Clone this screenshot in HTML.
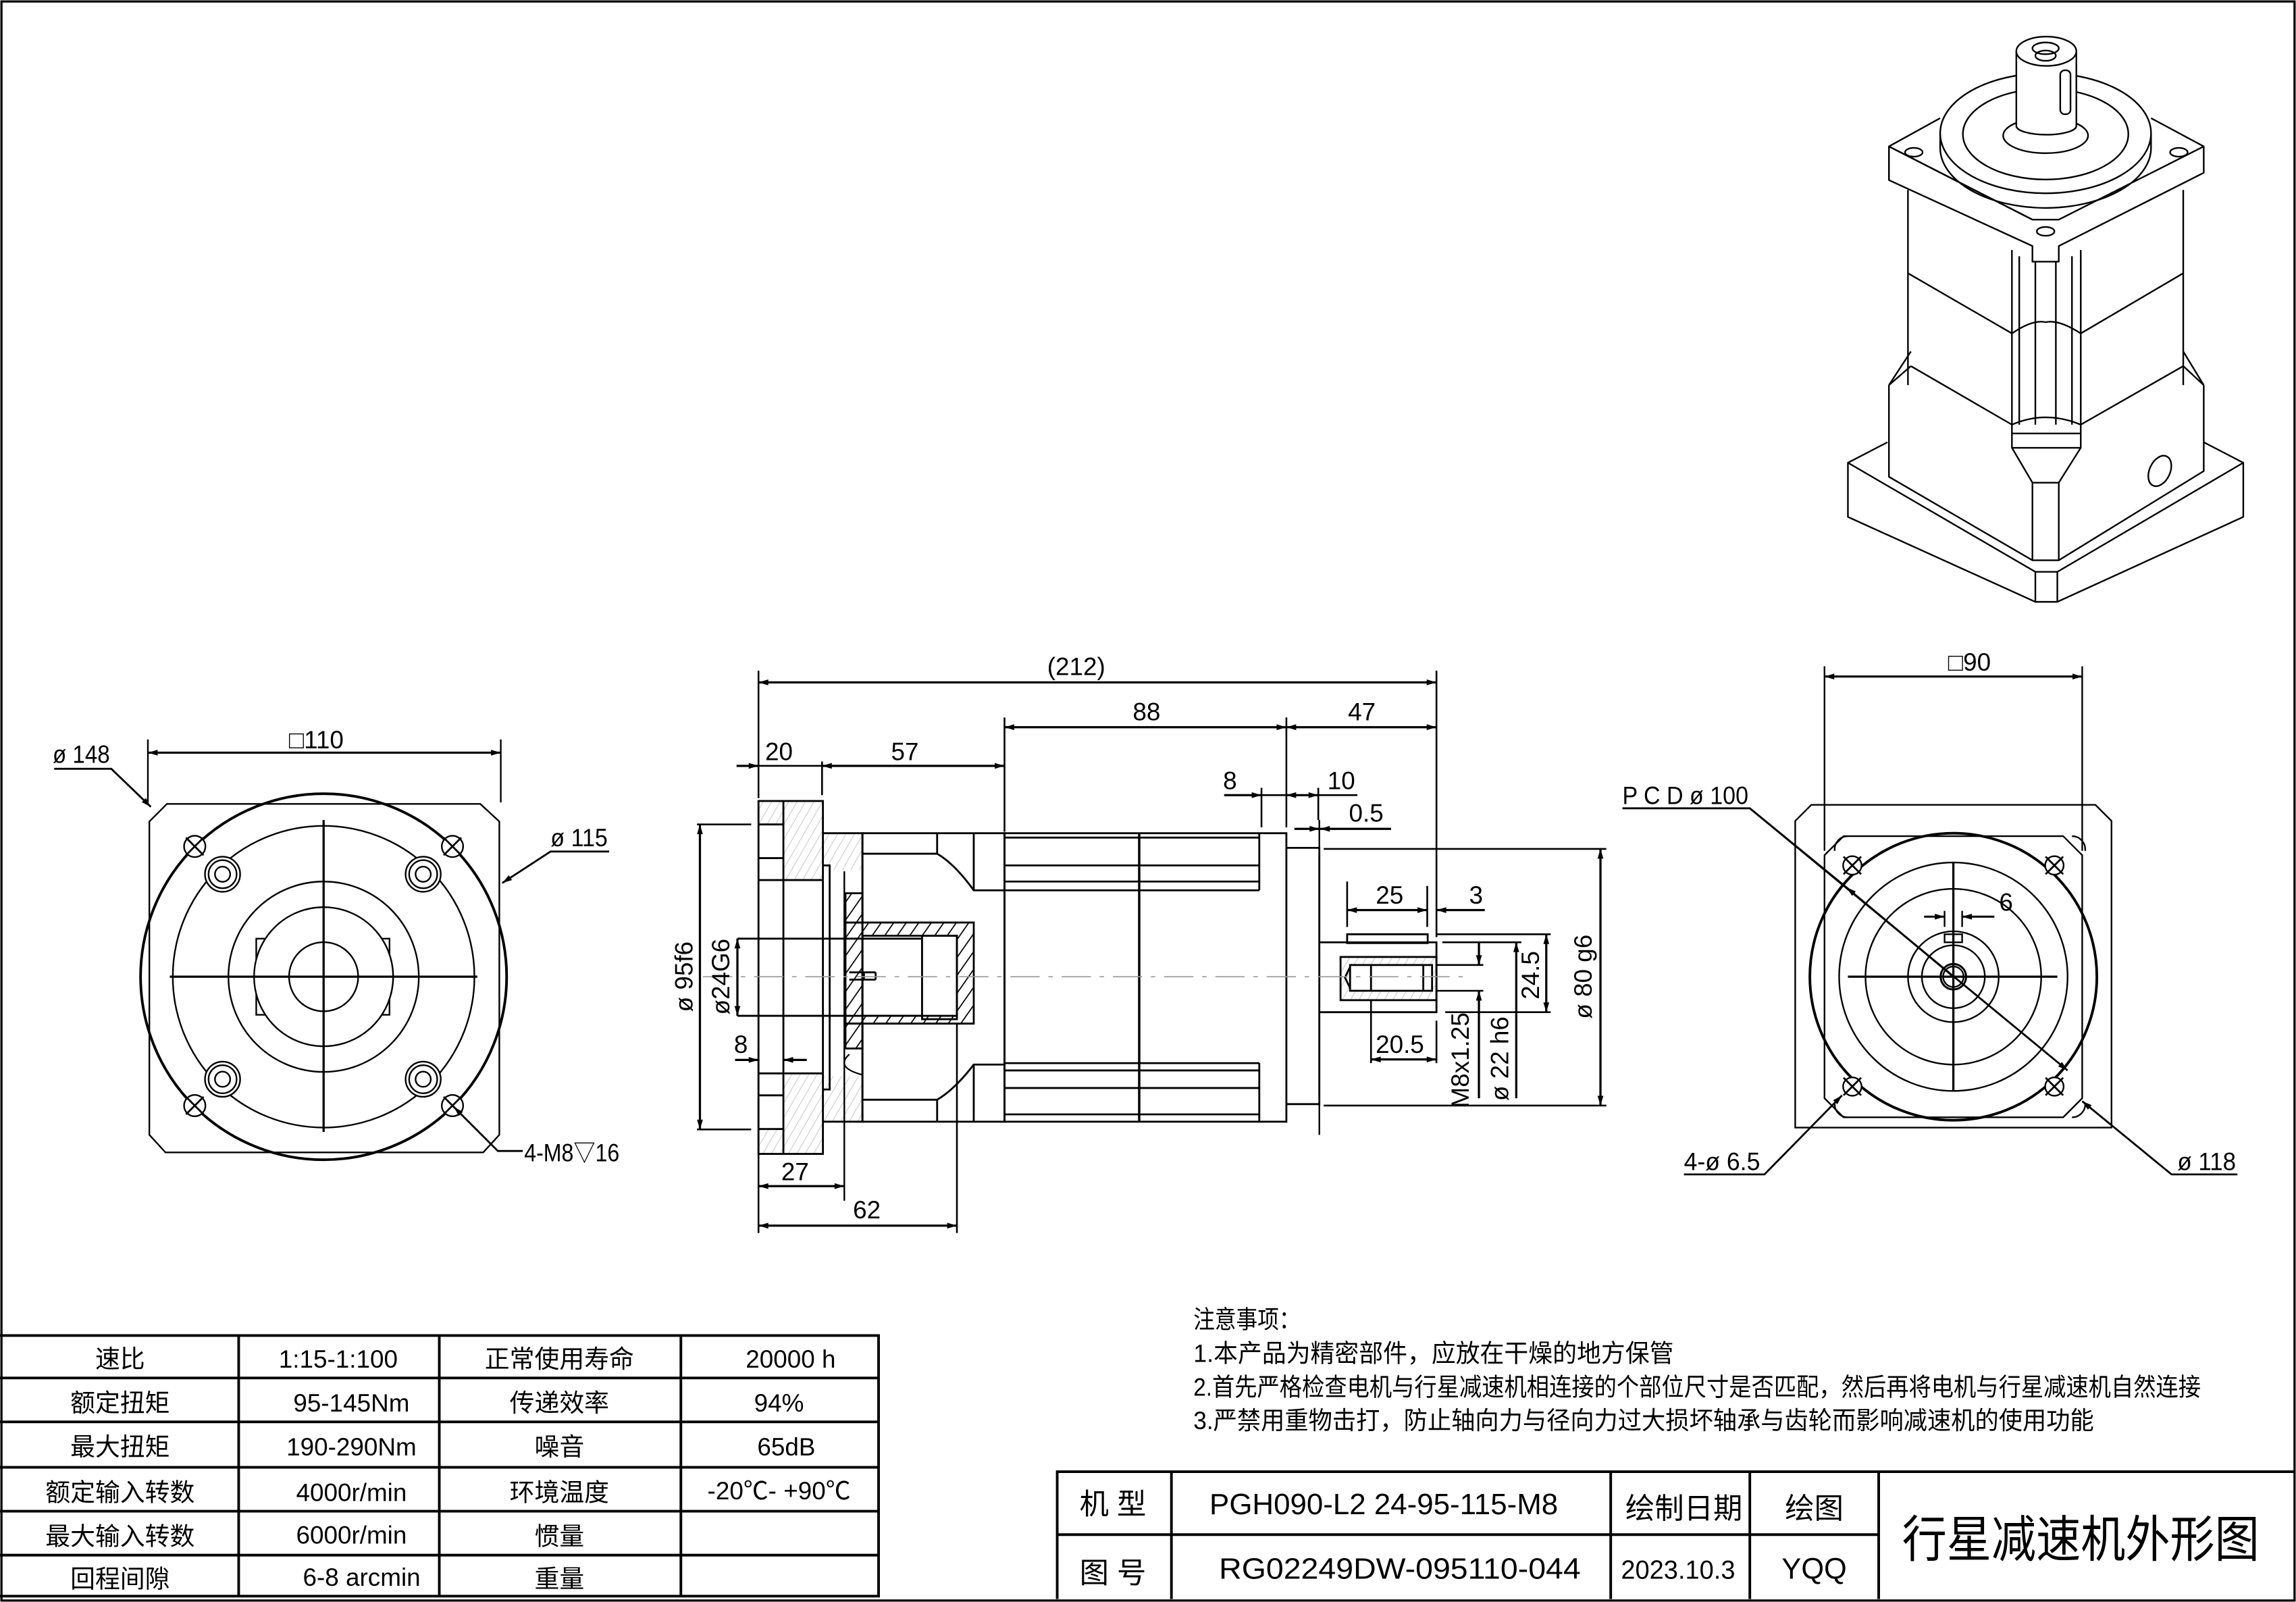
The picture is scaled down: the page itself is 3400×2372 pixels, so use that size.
<!DOCTYPE html>
<html><head><meta charset="utf-8"><style>
html,body{margin:0;padding:0;background:#fff;}
svg{display:block;}
text{font-family:"Liberation Sans","Noto Sans CJK SC",sans-serif;fill:#000;}
</style></head><body>
<svg width="3400" height="2372" viewBox="0 0 1568 1094" preserveAspectRatio="none" xmlns="http://www.w3.org/2000/svg">
<defs>
<marker id="a" viewBox="0 0 10 6" refX="10" refY="3" markerWidth="10" markerHeight="4" orient="auto-start-reverse" markerUnits="userSpaceOnUse"><path d="M0,0L10,3L0,6z" fill="#000"/></marker>
<pattern id="h1" width="5" height="5" patternUnits="userSpaceOnUse" patternTransform="rotate(30)"><line x1="0" y1="0" x2="0" y2="5" stroke="#aaa" stroke-width="0.6"/></pattern>
<pattern id="h2" width="7" height="7" patternUnits="userSpaceOnUse" patternTransform="rotate(35)"><line x1="0" y1="0" x2="0" y2="7" stroke="#000" stroke-width="1.6"/></pattern>
</defs>
<rect x="0" y="0" width="1568" height="1094" fill="#fff"/>
<rect x="1" y="1" width="1566" height="1092" fill="none" stroke="#000" stroke-width="1.5"/>

<!-- ============ LEFT VIEW ============ -->
<g fill="none" stroke="#000" stroke-width="1.1">
<path d="M114,549 L328,549 L341,561 L341,775 L330,787 L113,787 L102,775 L102,561 Z"/>
<rect x="175" y="641" width="91" height="52"/>
<circle cx="221" cy="667" r="47.5" fill="#fff"/>
<circle cx="221" cy="667" r="125" stroke-width="1.8"/>
<circle cx="221" cy="667" r="103"/>
<circle cx="221" cy="667" r="65"/>
<circle cx="221" cy="667" r="23.6"/>
<g fill="#fff">
<circle cx="152" cy="597" r="12"/><circle cx="289" cy="597" r="12"/><circle cx="152" cy="737" r="12"/><circle cx="289" cy="737" r="12"/></g>
<circle cx="152" cy="597" r="9.6"/><circle cx="289" cy="597" r="9.6"/><circle cx="152" cy="737" r="9.6"/><circle cx="289" cy="737" r="9.6"/>
<circle cx="152" cy="597" r="5.2"/><circle cx="289" cy="597" r="5.2"/><circle cx="152" cy="737" r="5.2"/><circle cx="289" cy="737" r="5.2"/>
<g fill="#fff"><circle cx="133" cy="578" r="7.3"/><circle cx="309" cy="578" r="7.3"/><circle cx="133" cy="755" r="7.3"/><circle cx="309" cy="755" r="7.3"/></g>
<path d="M127,572l12,12M139,572l-12,12M303,572l12,12M315,572l-12,12M127,749l12,12M139,749l-12,12M303,749l12,12M315,749l-12,12" stroke-width="1.3"/>
<line x1="116" y1="667" x2="326" y2="667" stroke-width="1.5"/>
<line x1="221" y1="560" x2="221" y2="773" stroke-width="1.5"/>
<!-- dims -->
<line x1="101" y1="505" x2="101" y2="548"/><line x1="342" y1="505" x2="342" y2="548"/>
<line x1="101" y1="514" x2="342" y2="514" marker-start="url(#a)" marker-end="url(#a)" stroke-width="1.4"/>
<polyline points="37,525 76,525 103,551" marker-end="url(#a)" stroke-width="1.3"/>
<polyline points="416,581.5 376,581.5 343,603" marker-end="url(#a)" stroke-width="1.3"/>
<polyline points="357,786 340,786 310,756" marker-end="url(#a)" stroke-width="1.3"/>
</g>
<text x="216" y="511" font-size="17" text-anchor="middle">□110</text>
<text x="36" y="521" font-size="17" textLength="39" lengthAdjust="spacingAndGlyphs">ø 148</text>
<text x="376" y="578" font-size="17" textLength="39" lengthAdjust="spacingAndGlyphs">ø 115</text>
<text x="358" y="793" font-size="17" textLength="65" lengthAdjust="spacingAndGlyphs">4-M8▽16</text>

<!-- ============ SIDE VIEW ============ -->
<g fill="none" stroke="#000" stroke-width="1.3">
<!-- flange hatch areas -->
<rect x="535" y="547" width="27" height="54" fill="url(#h1)" stroke="none"/>
<rect x="535" y="733" width="27" height="55" fill="url(#h1)" stroke="none"/>
<rect x="518" y="771" width="17" height="17" fill="url(#h1)" stroke="none"/>
<rect x="518" y="547" width="17" height="16" fill="url(#h1)" stroke="none"/>
<rect x="562" y="569" width="27" height="25" fill="url(#h1)" stroke="none"/>
<rect x="562" y="735" width="27" height="31" fill="url(#h1)" stroke="none"/>
<rect x="518" y="547" width="44" height="241"/>
<line x1="535" y1="547" x2="535" y2="788"/>
<path d="M518,563H535M518,586H535M518,601H562M518,733H562M518,748H535M518,771H535"/>
<path d="M562,569H589V766H562"/>
<path d="M562,591H566.6V744H562"/>
<line x1="576.6" y1="595" x2="576.6" y2="820" stroke-width="1.1"/>
<!-- housing -->
<rect x="589" y="569" width="97" height="197"/>
<path d="M589,583H640Q652,590 665,608H686"/>
<path d="M589,751H640Q652,744 665,727H686"/>
<line x1="640" y1="569" x2="640" y2="583"/><line x1="665" y1="569" x2="665" y2="608"/>
<line x1="640" y1="751" x2="640" y2="766"/><line x1="665" y1="727" x2="665" y2="766"/>
<!-- cup -->
<path d="M577.4,630H665V699H577.4Z M589,639H653.5V693.7H589Z" fill="url(#h2)" fill-rule="evenodd"/>
<rect x="577.4" y="610" width="11.6" height="20" fill="url(#h2)"/>
<rect x="577.4" y="699" width="11.6" height="17" fill="url(#h2)"/>
<rect x="629.7" y="639" width="23.8" height="57"/>
<path d="M503.6,641H629.7M503.6,693.7H629.7"/>
<path d="M580,664H598M598,664V669M580,669H598M590,664V669"/>
<path d="M580,720Q570,729 589,734" stroke-width="1"/>
<!-- main body -->
<rect x="686" y="569" width="192.5" height="197"/>
<line x1="778" y1="569" x2="778" y2="766" stroke-width="1.6"/>
<path d="M686,572H860M686,591H860M686,602H860M686,608H860M686,726H860M686,731H860M686,743H860M686,761H860"/>
<path d="M860,569V608M860,726V766"/>
<!-- right flange -->
<path d="M878.5,579H901V754H878.5"/>
<line x1="901" y1="560" x2="901" y2="775" stroke-width="1.1"/>
<!-- output shaft -->
<path d="M901,643.5H981V691.2H901"/>
<path d="M920,638H975L975,644H920Z"/>
<rect x="915.5" y="653.5" width="65.5" height="29.5" fill="url(#h1)"/>
<rect x="922" y="659" width="56" height="17.6" fill="#fff"/>
<path d="M922,660.4L918.5,667.5L922,674.7M936.3,659V676.6M972,659V676.6"/>
<line x1="480" y1="667" x2="1000" y2="667" stroke="#999" stroke-width="0.7" stroke-dasharray="20,6,3,6"/>
</g>
<!-- side view dimensions -->
<g fill="none" stroke="#000" stroke-width="1.2">
<line x1="518" y1="458" x2="518" y2="545"/><line x1="981" y1="458" x2="981" y2="640"/>
<line x1="518" y1="466" x2="981" y2="466" marker-start="url(#a)" marker-end="url(#a)" stroke-width="1.5"/>
<line x1="686" y1="490" x2="686" y2="568"/><line x1="878.5" y1="490" x2="878.5" y2="565"/>
<line x1="686" y1="496.6" x2="878.5" y2="496.6" marker-start="url(#a)" marker-end="url(#a)" stroke-width="1.5"/>
<line x1="878.5" y1="496.6" x2="981" y2="496.6" marker-start="url(#a)" marker-end="url(#a)" stroke-width="1.5"/>
<line x1="561.4" y1="520" x2="561.4" y2="543"/>
<line x1="503" y1="523" x2="518" y2="523" marker-end="url(#a)" stroke-width="1.5"/>
<line x1="518" y1="523" x2="561.4" y2="523"/>
<line x1="561.4" y1="523" x2="686" y2="523" marker-start="url(#a)" marker-end="url(#a)" stroke-width="1.5"/>
<line x1="861.5" y1="538" x2="861.5" y2="565"/>
<line x1="836" y1="543" x2="861.5" y2="543" marker-end="url(#a)" stroke-width="1.5"/>
<line x1="861.5" y1="543" x2="878.5" y2="543"/>
<line x1="878.5" y1="543" x2="900.3" y2="543" marker-start="url(#a)" marker-end="url(#a)" stroke-width="1.5"/>
<line x1="900.3" y1="543" x2="927" y2="543"/>
<line x1="900.3" y1="538" x2="900.3" y2="560"/>
<line x1="884" y1="566" x2="901" y2="566" marker-end="url(#a)" stroke-width="1.5"/>
<line x1="950" y1="566" x2="901.5" y2="566" marker-end="url(#a)" stroke-width="1.5"/>
<line x1="904" y1="579.7" x2="1097" y2="579.7"/>
<line x1="920" y1="602" x2="920" y2="633"/><line x1="974.7" y1="605" x2="974.7" y2="633"/>
<line x1="920" y1="621.5" x2="974.7" y2="621.5" marker-start="url(#a)" marker-end="url(#a)" stroke-width="1.5"/>
<line x1="1014" y1="621.5" x2="981" y2="621.5" marker-end="url(#a)" stroke-width="1.5"/>
<line x1="981" y1="638" x2="1059" y2="638"/><line x1="985" y1="643.5" x2="1039" y2="643.5"/>
<line x1="981" y1="659" x2="1013" y2="659"/><line x1="981" y1="676.6" x2="1013" y2="676.6"/>
<line x1="987" y1="691.2" x2="1059" y2="691.2"/>
<line x1="1056" y1="638" x2="1056" y2="691.2" marker-start="url(#a)" marker-end="url(#a)" stroke-width="1.5"/>
<line x1="1035.5" y1="643.5" x2="1035.5" y2="750" marker-start="url(#a)" stroke-width="1.5"/>
<line x1="1010" y1="643.5" x2="1010" y2="659" marker-end="url(#a)" stroke-width="1.5"/>
<line x1="1010" y1="750" x2="1010" y2="676.6" marker-end="url(#a)" stroke-width="1.5"/>
<line x1="1093" y1="579.7" x2="1093" y2="755" marker-start="url(#a)" marker-end="url(#a)" stroke-width="1.5"/>
<line x1="904" y1="755" x2="1097" y2="755"/>
<line x1="936.3" y1="683" x2="936.3" y2="726"/><line x1="981" y1="697" x2="981" y2="726"/>
<line x1="936.3" y1="723.5" x2="981" y2="723.5" marker-start="url(#a)" marker-end="url(#a)" stroke-width="1.5"/>
<!-- left vertical dims -->
<line x1="476" y1="563" x2="513" y2="563"/><line x1="476" y1="771.3" x2="513" y2="771.3"/>
<line x1="478" y1="563" x2="478" y2="771.3" marker-start="url(#a)" marker-end="url(#a)" stroke-width="1.5"/>
<line x1="503.6" y1="641" x2="503.6" y2="693.7" marker-start="url(#a)" marker-end="url(#a)" stroke-width="1.5"/>
<line x1="502" y1="723.8" x2="518" y2="723.8" marker-end="url(#a)" stroke-width="1.5"/>
<line x1="551" y1="723.8" x2="535" y2="723.8" marker-end="url(#a)" stroke-width="1.5"/>
<line x1="518" y1="715" x2="518" y2="842"/>
<line x1="518" y1="810" x2="576.6" y2="810" marker-start="url(#a)" marker-end="url(#a)" stroke-width="1.5"/>
<line x1="653.5" y1="699" x2="653.5" y2="842"/>
<line x1="518" y1="837" x2="653.5" y2="837" marker-start="url(#a)" marker-end="url(#a)" stroke-width="1.5"/>
</g>
<g font-size="17">
<text x="735" y="461" text-anchor="middle">(212)</text>
<text x="783" y="492" text-anchor="middle">88</text>
<text x="930" y="492" text-anchor="middle">47</text>
<text x="532" y="519" text-anchor="middle">20</text>
<text x="618" y="519" text-anchor="middle">57</text>
<text x="840" y="539" text-anchor="middle">8</text>
<text x="916" y="539" text-anchor="middle">10</text>
<text x="933" y="561" text-anchor="middle">0.5</text>
<text x="949" y="617" text-anchor="middle">25</text>
<text x="1008" y="617" text-anchor="middle">3</text>
<text x="956" y="719" text-anchor="middle">20.5</text>
<text x="506" y="719" text-anchor="middle">8</text>
<text x="543" y="806" text-anchor="middle">27</text>
<text x="592" y="832" text-anchor="middle">62</text>
<text transform="translate(473,667) rotate(-90)" text-anchor="middle">ø 95f6</text>
<text transform="translate(498,667) rotate(-90)" text-anchor="middle">ø24G6</text>
<text transform="translate(1087,667) rotate(-90)" text-anchor="middle">ø 80 g6</text>
<text transform="translate(1051,666) rotate(-90)" text-anchor="middle">24.5</text>
<text transform="translate(1030,723) rotate(-90)" text-anchor="middle">ø 22 h6</text>
<text transform="translate(1003,724) rotate(-90)" text-anchor="middle">M8x1.25</text>
</g>

<!-- ============ RIGHT VIEW ============ -->
<g fill="none" stroke="#000" stroke-width="1.1">
<path d="M1237,549.6H1431L1442,560.6V770H1226V560.6Z"/>
<path d="M1259,571H1409L1422,584V750L1409,763H1259L1246,750V584Z"/>
<path d="M1253,581A9,9 0 0 1 1262,571M1415,571A9,9 0 0 1 1424,581M1253,753A9,9 0 0 0 1262,763M1415,763A9,9 0 0 0 1424,753"/>
<circle cx="1334" cy="667" r="98" stroke-width="1.8"/>
<circle cx="1334" cy="667" r="78"/>
<circle cx="1334" cy="667" r="60"/>
<circle cx="1334" cy="667" r="31"/>
<circle cx="1334" cy="667" r="21.5"/>
<circle cx="1334" cy="667" r="8.7" stroke-width="1.4"/>
<circle cx="1334" cy="667" r="7"/>
<rect x="1328" y="638" width="12" height="5.5"/>
<g fill="#fff"><circle cx="1265" cy="591" r="6.3"/><circle cx="1403" cy="591" r="6.3"/><circle cx="1265" cy="742" r="6.3"/><circle cx="1403" cy="742" r="6.3"/></g>
<path d="M1259,585l12,12M1271,585l-12,12M1397,585l12,12M1409,585l-12,12M1259,736l12,12M1271,736l-12,12M1397,736l12,12M1409,736l-12,12" stroke-width="1.3"/>
<line x1="1262" y1="667" x2="1405" y2="667" stroke-width="1.5"/>
<line x1="1334" y1="589" x2="1334" y2="745" stroke-width="1.5"/>
<!-- dims -->
<line x1="1246" y1="455" x2="1246" y2="581"/><line x1="1422" y1="455" x2="1422" y2="581"/>
<line x1="1246" y1="462" x2="1422" y2="462" marker-start="url(#a)" marker-end="url(#a)" stroke-width="1.4"/>
<line x1="1328" y1="622" x2="1328" y2="633"/><line x1="1340" y1="622" x2="1340" y2="633"/>
<line x1="1314" y1="626" x2="1328" y2="626" marker-end="url(#a)" stroke-width="1.4"/>
<line x1="1362" y1="626" x2="1340" y2="626" marker-end="url(#a)" stroke-width="1.4"/>
<polyline points="1108,552 1195,552 1261,606" stroke-width="1.3"/>
<line x1="1195" y1="552" x2="1412" y2="731" marker-end="url(#a)" stroke-width="1.3"/>
<line x1="1334" y1="667" x2="1261" y2="606" marker-end="url(#a)" stroke-width="1.3"/>
<polyline points="1150,802 1205,802 1258,748" marker-end="url(#a)" stroke-width="1.3"/>
<polyline points="1528,802 1483,802 1422,752" marker-end="url(#a)" stroke-width="1.3"/>
</g>
<text x="1345" y="458" font-size="17" text-anchor="middle">□90</text>
<text x="1108" y="549" font-size="17" textLength="86" lengthAdjust="spacingAndGlyphs">P C D ø 100</text>
<text x="1370" y="622" font-size="17" text-anchor="middle">6</text>
<text x="1150" y="799" font-size="17" textLength="52" lengthAdjust="spacingAndGlyphs">4-ø 6.5</text>
<text x="1487" y="799" font-size="17" textLength="40" lengthAdjust="spacingAndGlyphs">ø 118</text>

<!-- ============ 3D VIEW ============ -->
<g fill="none" stroke="#000" stroke-width="1.1" stroke-linejoin="round">
<!-- base plate -->
<path d="M1262,316L1289,302M1532,316L1505,302"/>
<path d="M1262,316L1390,390.5H1405L1532,316V353L1405,411H1390L1262,353Z"/>
<path d="M1390,390.5V411M1405,390.5V411"/>
<!-- lower body -->
<path d="M1290,263V325.6L1388,382.6H1406L1505,321.7V263"/>
<path d="M1388,329.6V382.6M1406,329.6V382.6"/>
<path d="M1374,305.8L1388,329.6H1406L1421,305.8"/>
<path d="M1290,263L1305,250M1505,263L1491,250"/>
<path d="M1290,263L1305,240M1505,263L1491,240"/>
<ellipse cx="1475" cy="321.6" rx="7" ry="11" transform="rotate(25 1475 321.6)"/>
<!-- body -->
<path d="M1303,129.7V263M1491,129.7V263"/>
<path d="M1290,123V100"/>
<path d="M1374,170.7V305.8H1421V170.7"/>
<path d="M1374,296H1421"/>
<path d="M1379,175V290M1390,178.7V290M1404,178.7V290M1415,175V290"/>
<path d="M1303,186.6L1374,227.7Q1388,218 1397,220Q1406,218 1421,227.7L1491,186.6"/>
<path d="M1305,250L1374,290Q1397,280 1421,290L1491,250"/>
<!-- top flange -->
<path d="M1290,100L1325,80.7M1469,80.7L1505,100V118L1406,168V178.7H1388V168L1290,123V100L1388,150H1406L1505,100"/>
<path d="M1290,100L1388,150"/>
<ellipse cx="1307" cy="104" rx="6" ry="3"/><ellipse cx="1488" cy="104" rx="6" ry="3"/><ellipse cx="1397" cy="158" rx="6" ry="3"/>
<!-- disc -->
<path d="M1325,91V101A72,41 0 0 0 1469,101V91"/>
<ellipse cx="1397" cy="91" rx="72" ry="41" fill="#fff"/>
<ellipse cx="1397" cy="91.6" rx="56.5" ry="31"/>
<ellipse cx="1397" cy="92.6" rx="29" ry="12"/>
<!-- shaft -->
<path d="M1377,35V86A20.5,6 0 0 0 1418,86V35" fill="#fff"/>
<ellipse cx="1397.5" cy="35" rx="20.5" ry="10" fill="#fff"/>
<ellipse cx="1397" cy="33" rx="9" ry="4"/><ellipse cx="1397" cy="38" rx="7" ry="3.5"/>
<rect x="1407" y="48" width="7" height="30" rx="3"/>
</g>

<!-- ============ NOTES ============ -->
<g font-size="17">
<text x="815" y="907" textLength="73" lengthAdjust="spacingAndGlyphs">注意事项：</text>
<text x="815" y="930" textLength="328" lengthAdjust="spacingAndGlyphs">1.本产品为精密部件，应放在干燥的地方保管</text>
<text x="815" y="953" textLength="688" lengthAdjust="spacingAndGlyphs">2.首先严格检查电机与行星减速机相连接的个部位尺寸是否匹配，然后再将电机与行星减速机自然连接</text>
<text x="815" y="976" textLength="615" lengthAdjust="spacingAndGlyphs">3.严禁用重物击打，防止轴向力与径向力过大损坏轴承与齿轮而影响减速机的使用功能</text>
</g>

<!-- ============ SPEC TABLE ============ -->
<g fill="none" stroke="#000" stroke-width="1.8">
<path d="M0,912H600V1090H0M0,941H600M0,971H600M0,1002H600M0,1032H600M0,1062H600"/>
<path d="M163,912V1090M300,912V1090M465,912V1090"/>
</g>
<g font-size="17" text-anchor="middle">
<text x="82" y="934">速比</text><text x="231" y="934">1:15-1:100</text><text x="382" y="934">正常使用寿命</text><text x="540" y="934">20000  h</text>
<text x="82" y="964">额定扭矩</text><text x="240" y="964">95-145Nm</text><text x="382" y="964">传递效率</text><text x="532" y="964">94%</text>
<text x="82" y="994">最大扭矩</text><text x="240" y="994">190-290Nm</text><text x="382" y="994">噪音</text><text x="537" y="994">65dB</text>
<text x="82" y="1025">额定输入转数</text><text x="240" y="1025">4000r/min</text><text x="382" y="1025">环境温度</text><text x="532" y="1024">-20℃- +90℃</text>
<text x="82" y="1055">最大输入转数</text><text x="240" y="1054">6000r/min</text><text x="382" y="1055">惯量</text>
<text x="82" y="1084">回程间隙</text><text x="247" y="1083">6-8 arcmin</text><text x="382" y="1084">重量</text>
</g>

<!-- ============ TITLE BLOCK ============ -->
<g fill="none" stroke="#000" stroke-width="1.8">
<path d="M722,1092V1005H1567M722,1048H1283M800,1005V1092M1100,1005V1092M1195,1005V1092M1283,1005V1092"/>
</g>
<g font-size="20" text-anchor="middle">
<text x="760" y="1034">机 型</text>
<text x="945" y="1034" textLength="238" lengthAdjust="spacingAndGlyphs">PGH090-L2  24-95-115-M8</text>
<text x="1150" y="1037">绘制日期</text>
<text x="1239" y="1037">绘图</text>
<text x="760" y="1081">图 号</text>
<text x="956" y="1078" textLength="247" lengthAdjust="spacingAndGlyphs">RG02249DW-095110-044</text>
<text x="1146" y="1078" font-size="18" textLength="78" lengthAdjust="spacingAndGlyphs">2023.10.3</text>
<text x="1239" y="1078">YQQ</text>
<text x="1421" y="1063" font-size="34" textLength="244" lengthAdjust="spacingAndGlyphs">行星减速机外形图</text>
</g>
</svg>
</body></html>
